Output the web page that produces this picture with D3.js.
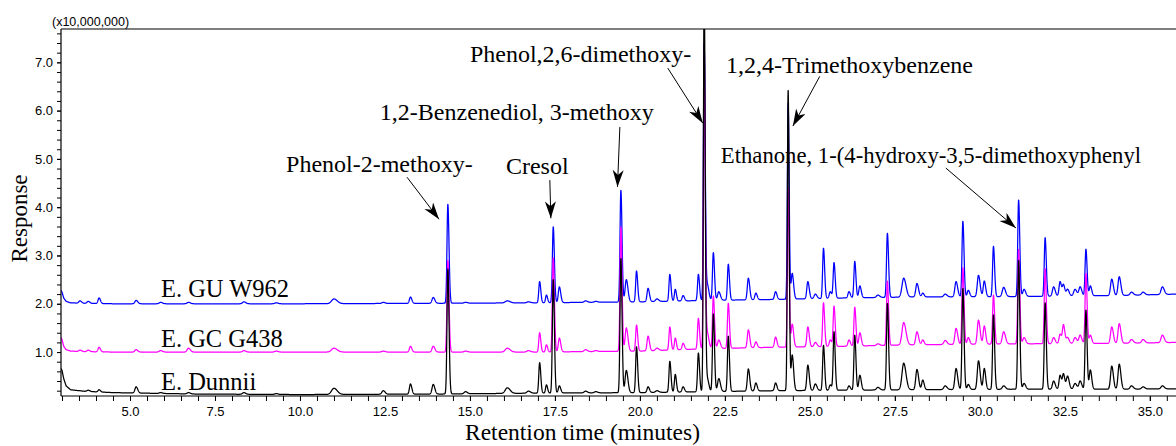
<!DOCTYPE html>
<html>
<head>
<meta charset="utf-8">
<script src="https://cdn.jsdelivr.net/npm/d3@7"></script>
<style>
  body { margin: 0; background: #fff; }
  svg { display: block; }
</style>
</head>
<body>
<svg id="chart" width="1176" height="446"></svg>
<script>
// ---- Peak table: retention time (min) and apex response (x10,000,000) per sample ----
const retentionTimes = [3.53, 3.77, 4.09, 5.18, 5.9, 6.72, 8.35, 9.3, 11.0, 12.45, 13.25, 13.92,
  14.35, 14.87, 16.1, 16.72, 17.05, 17.25, 17.45, 17.63, 18.4, 18.7, 19.44, 19.6, 19.9, 20.24,
  20.5, 20.88, 21.04, 21.27, 21.72, 21.89, 21.98, 22.16, 22.32, 22.6, 23.19, 23.41, 23.99, 24.36,
  24.48, 24.94, 25.16, 25.4, 25.6, 25.71, 26.15, 26.32, 26.47, 27.0, 27.28, 27.76, 28.15, 28.32,
  28.98, 29.3, 29.5, 29.66, 29.96, 30.13, 30.4, 30.7, 31.14, 31.3, 31.92, 32.17, 32.36, 32.46,
  32.58, 32.8, 32.95, 33.12, 33.25, 33.88, 34.1, 34.46, 34.8, 35.37];

// peak standard deviation in minutes
const peakWidths = [0.035, 0.035, 0.03, 0.035, 0.04, 0.04, 0.04, 0.04, 0.07, 0.04, 0.03, 0.035,
  0.025, 0.04, 0.06, 0.045, 0.025, 0.025, 0.025, 0.03, 0.04, 0.04, 0.025, 0.035, 0.025, 0.03,
  0.04, 0.025, 0.025, 0.03, 0.025, 0.022, 0.035, 0.025, 0.035, 0.025, 0.03, 0.03, 0.03, 0.022,
  0.03, 0.03, 0.035, 0.025, 0.03, 0.025, 0.03, 0.025, 0.03, 0.04, 0.025, 0.05, 0.035, 0.03,
  0.04, 0.035, 0.025, 0.03, 0.035, 0.03, 0.025, 0.04, 0.025, 0.035, 0.025, 0.035, 0.03, 0.03,
  0.035, 0.04, 0.035, 0.025, 0.03, 0.035, 0.035, 0.04, 0.04, 0.04];

const responseGU = [2.06, 2.05, 2.12, 2.07, 2.03, 2.03, 2.04, 2.02, 2.10, 2.03, 2.14, 2.13,
  4.06, 2.03, 2.06, 2.04, 2.46, 2.18, 3.59, 2.35, 2.06, 2.05, 4.35, 2.50, 2.68, 2.32,
  2.10, 2.61, 2.30, 2.17, 2.61, 7.39, 2.40, 3.06, 2.25, 2.82, 2.53, 2.22, 2.25, 6.16,
  2.63, 2.46, 2.20, 3.15, 2.25, 2.85, 2.25, 2.88, 2.37, 2.18, 3.46, 2.53, 2.42, 2.22,
  2.20, 2.46, 3.71, 2.28, 2.59, 2.47, 3.19, 2.34, 4.15, 2.30, 3.37, 2.35, 2.46, 2.39,
  2.30, 2.30, 2.35, 3.13, 2.37, 2.51, 2.56, 2.24, 2.24, 2.35];

const responseGC = [1.04, 1.04, 1.10, 1.05, 1.03, 1.08, 1.03, 1.02, 1.08, 1.02, 1.12, 1.12,
  2.90, 1.02, 1.08, 1.03, 1.40, 1.15, 2.95, 1.29, 1.05, 1.03, 3.59, 1.50, 1.56, 1.33,
  1.08, 1.52, 1.29, 1.18, 1.70, 7.35, 1.40, 2.16, 1.25, 2.01, 1.46, 1.21, 1.31, 4.40,
  1.58, 1.52, 1.20, 2.02, 1.25, 1.95, 1.25, 1.93, 1.40, 1.17, 2.47, 1.61, 1.42, 1.25,
  1.24, 1.49, 2.75, 1.30, 1.66, 1.54, 2.18, 1.42, 3.13, 1.30, 2.73, 1.30, 1.37, 1.56,
  1.30, 1.30, 1.35, 2.63, 1.35, 1.52, 1.59, 1.26, 1.26, 1.35];

const responseDunnii = [0.20, 0.21, 0.22, 0.28, 0.16, 0.16, 0.16, 0.14, 0.25, 0.20, 0.34, 0.33,
  2.72, 0.18, 0.26, 0.19, 0.78, 0.32, 2.50, 0.30, 0.19, 0.18, 2.94, 0.62, 1.11, 0.28,
  0.20, 0.81, 0.54, 0.28, 0.98, 8.60, 0.45, 1.79, 0.45, 1.33, 0.65, 0.36, 0.36, 6.43,
  0.94, 0.73, 0.34, 1.14, 0.32, 1.42, 0.30, 1.35, 0.52, 0.27, 2.01, 0.77, 0.64, 0.42,
  0.30, 0.66, 2.32, 0.33, 0.82, 0.66, 1.77, 0.30, 2.90, 0.35, 2.02, 0.40, 0.52, 0.54,
  0.50, 0.35, 0.40, 1.87, 0.63, 0.71, 0.75, 0.30, 0.28, 0.30];

// ---- Baseline (solvent front and drift) knots ----
const baselineTimes = [2.97, 3.0, 3.05, 3.12, 3.25, 3.6, 4.5, 7, 10, 14, 17, 20, 22, 24, 26, 28, 31, 34, 35.8];
const baselineGU = [2.28, 2.24, 2.12, 2.05, 2.02, 2.01, 2.0, 2.0, 2.0, 2.01, 2.02, 2.04, 2.07, 2.09, 2.12, 2.14, 2.15, 2.17, 2.2];
const baselineGC = [1.30, 1.26, 1.12, 1.05, 1.02, 1.01, 1.0, 1.0, 1.0, 1.0, 1.0, 1.02, 1.07, 1.10, 1.12, 1.15, 1.17, 1.18, 1.2];
const baselineDunnii = [0.66, 0.62, 0.45, 0.30, 0.22, 0.19, 0.16, 0.13, 0.12, 0.13, 0.15, 0.16, 0.18, 0.20, 0.21, 0.22, 0.23, 0.23, 0.24];

// ---- Axis ticks ----
const xMajorTicks = [5.0, 7.5, 10.0, 12.5, 15.0, 17.5, 20.0, 22.5, 25.0, 27.5, 30.0, 32.5, 35.0];
const yMajorTicks = [1.0, 2.0, 3.0, 4.0, 5.0, 6.0, 7.0];

// ---- Sample names and compound annotations ----
const sampleNames = ["E. GU W962", "E. GC G438", "E. Dunnii"];
const sampleLabelTime = 5.91;
const sampleLabelResponse = [2.145, 1.11, 0.213];

const compounds = ["Phenol-2-methoxy-", "Cresol", "1,2-Benzenediol, 3-methoxy",
  "Phenol,2,6-dimethoxy-", "1,2,4-Trimethoxybenzene", "Ethanone, 1-(4-hydroxy-3,5-dimethoxyphenyl"];
const compoundTextTime = [9.59, 16.06, 12.35, 15.0, 22.53, 22.38];
const compoundTextResponse = [4.73, 4.69, 5.80, 7.00, 6.78, 4.91];
const arrowFromTime = [13.15, 17.35, 19.41, 20.82, 25.29, 29.0];
const arrowFromResponse = [4.62, 4.56, 5.66, 6.88, 6.71, 4.81];
const arrowToTime = [14.09, 17.38, 19.34, 21.85, 24.5, 31.06];
const arrowToResponse = [3.75, 3.77, 4.42, 5.74, 5.68, 3.57];

// ---- Layout ----
const W = 1176, H = 446;
const margin = { left: 61, right: 0, top: 29, bottom: 50 };
const svg = d3.select("#chart");

const x = d3.scaleLinear().domain([2.97, 35.77]).range([margin.left, W - margin.right]);
const y = d3.scaleLinear().domain([0.09, 7.69]).range([H - margin.bottom, margin.top]);

const sansFont = "'Liberation Sans', Arial, Helvetica, sans-serif";
const serifFont = "'Liberation Serif', 'Times New Roman', Times, serif";

const defs = svg.append("defs");
defs.append("clipPath").attr("id", "plotClip")
  .append("rect")
  .attr("x", x.range()[0]).attr("y", y.range()[1])
  .attr("width", x.range()[1] - x.range()[0])
  .attr("height", y.range()[0] - y.range()[1]);

defs.append("marker")
  .attr("id", "arrowHead")
  .attr("markerUnits", "userSpaceOnUse")
  .attr("markerWidth", 20).attr("markerHeight", 12)
  .attr("refX", 17).attr("refY", 5.5)
  .attr("orient", "auto")
  .append("path")
  .attr("d", "M0,0 L17,5.5 L0,11 L5,5.5 Z")
  .attr("fill", "#000");

// Build a continuous trace: baseline drift plus a tailing peak shape at each retention time
function buildTrace(apex, baseTimes, baseVals) {
  const base = d3.scaleLinear().domain(baseTimes).range(baseVals).clamp(true);
  const peaks = retentionTimes.map((t, i) => ({ t, h: apex[i] - base(t), w: peakWidths[i] }));
  const step = 0.004;
  const [t0, t1] = x.domain();
  const pts = [];
  for (let t = t0; t <= t1 + 1e-9; t += step) {
    let v = base(t);
    for (const p of peaks) {
      const d = t - p.t;
      const s = d < 0 ? p.w : p.w * 1.35;
      if (Math.abs(d) < s * 6) v += p.h * Math.exp(-0.5 * (d / s) * (d / s));
    }
    pts.push([t, v]);
  }
  return pts;
}

const traces = [
  { data: buildTrace(responseGU, baselineTimes, baselineGU), color: "#0000ff" },
  { data: buildTrace(responseGC, baselineTimes, baselineGC), color: "#ff00ff" },
  { data: buildTrace(responseDunnii, baselineTimes, baselineDunnii), color: "#000000" }
];

const line = d3.line().x(d => x(d[0])).y(d => y(d[1]));

svg.append("g").attr("clip-path", "url(#plotClip)")
  .selectAll("path").data(traces).join("path")
  .attr("d", d => line(d.data))
  .attr("fill", "none")
  .attr("stroke", d => d.color)
  .attr("stroke-width", 1.25)
  .attr("stroke-linejoin", "round");

// ---- Axes ----
const xMinor = d3.range(3.0, 35.75, 0.5);
const yMinor = d3.range(0.2, 7.69, 0.2);

const xAxisG = svg.append("g").attr("transform", `translate(0,${y.range()[0]})`);
xAxisG.call(d3.axisBottom(x).tickValues(xMinor).tickSize(5).tickFormat(""));
xAxisG.append("g").call(d3.axisBottom(x).tickValues(xMajorTicks).tickSize(5).tickPadding(6)
  .tickFormat(d3.format(".1f")));
xAxisG.selectAll(".domain").remove();
xAxisG.selectAll("text").attr("font-family", sansFont).attr("font-size", 13).attr("fill", "#000");

const yAxisG = svg.append("g").attr("transform", `translate(${x.range()[0]},0)`);
yAxisG.call(d3.axisLeft(y).tickValues(yMinor).tickSize(4).tickFormat(""));
yAxisG.append("g").call(d3.axisLeft(y).tickValues(yMajorTicks).tickSize(4).tickPadding(4)
  .tickFormat(d3.format(".1f")));
yAxisG.selectAll(".domain").remove();
yAxisG.selectAll("text").attr("font-family", sansFont).attr("font-size", 13).attr("fill", "#000");

// frame lines: left, bottom, top
const frame = svg.append("g").attr("stroke", "#000").attr("stroke-width", 1.2);
frame.append("line").attr("x1", x.range()[0]).attr("x2", x.range()[0]).attr("y1", y.range()[1]).attr("y2", y.range()[0]);
frame.append("line").attr("x1", x.range()[0]).attr("x2", x.range()[1]).attr("y1", y.range()[0]).attr("y2", y.range()[0]);
frame.append("line").attr("x1", x.range()[0]).attr("x2", x.range()[1]).attr("y1", y.range()[1]).attr("y2", y.range()[1]);

svg.append("text")
  .attr("x", x.range()[0] - 9).attr("y", y.range()[1] - 3)
  .attr("font-family", sansFont).attr("font-size", 12.5)
  .text("(x10,000,000)");

// axis titles
svg.append("text")
  .attr("x", (x.range()[0] + x.range()[1]) / 2 - 36).attr("y", H - 6)
  .attr("text-anchor", "middle")
  .attr("font-family", serifFont).attr("font-size", 23.5)
  .text("Retention time (minutes)");

svg.append("text")
  .attr("transform", `translate(27,${(y.range()[0] + y.range()[1]) / 2 + 6}) rotate(-90)`)
  .attr("text-anchor", "middle")
  .attr("font-family", serifFont).attr("font-size", 23)
  .text("Response");

// sample labels
svg.append("g").selectAll("text").data(sampleNames).join("text")
  .attr("x", x(sampleLabelTime))
  .attr("y", (d, i) => y(sampleLabelResponse[i]))
  .attr("font-family", serifFont).attr("font-size", 24.5)
  .text(d => d);

// compound annotations
const ann = svg.append("g");
ann.selectAll("text").data(compounds).join("text")
  .attr("x", (d, i) => x(compoundTextTime[i]))
  .attr("y", (d, i) => y(compoundTextResponse[i]))
  .attr("font-family", serifFont)
  .attr("font-size", (d, i) => i === 5 ? 22.7 : 24)
  .text(d => d);
ann.selectAll("line").data(compounds).join("line")
  .attr("x1", (d, i) => x(arrowFromTime[i]))
  .attr("y1", (d, i) => y(arrowFromResponse[i]))
  .attr("x2", (d, i) => x(arrowToTime[i]))
  .attr("y2", (d, i) => y(arrowToResponse[i]))
  .attr("stroke", "#000").attr("stroke-width", 1)
  .attr("marker-end", "url(#arrowHead)");
</script>
</body>
</html>
